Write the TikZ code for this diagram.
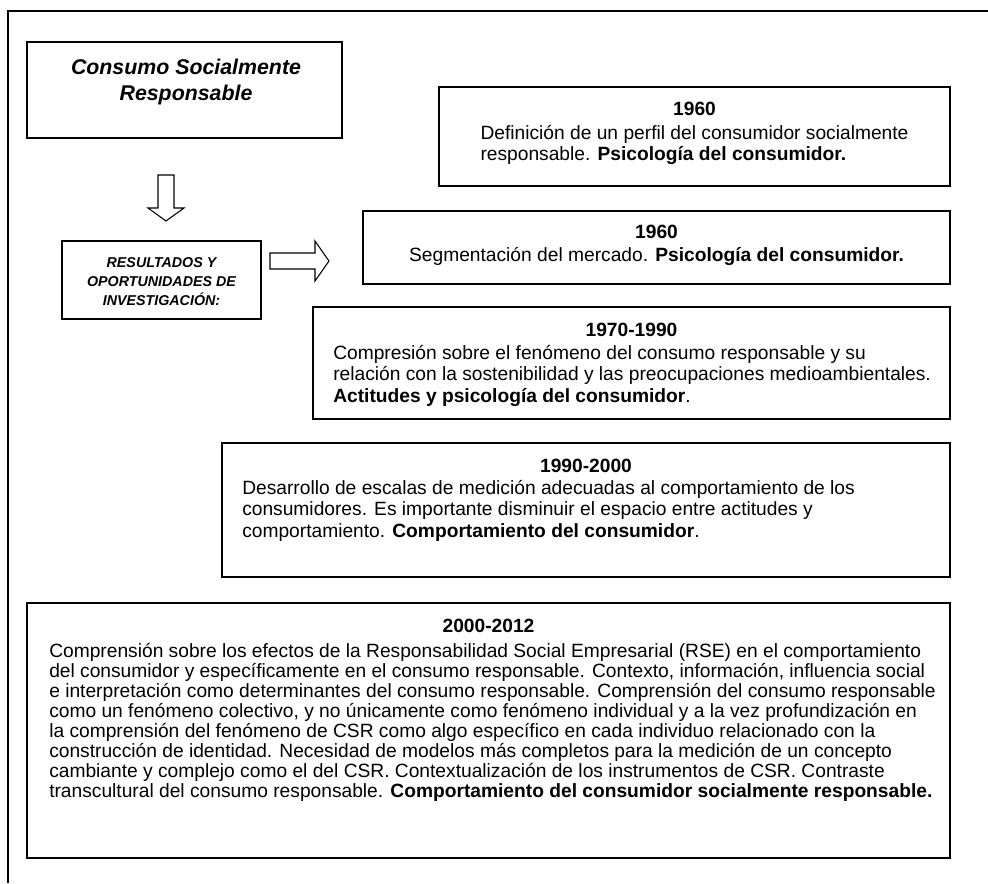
\documentclass[tikz,border=0pt]{standalone}
\usepackage{fontspec}
\setmainfont{Liberation Sans}
\usepackage{tikz}
\usetikzlibrary{fit}

\begin{document}
\begin{tikzpicture}[x=0.75pt,y=0.75pt,yscale=-1,xscale=1,
  box/.style={draw, line width=1pt, inner sep=0pt},
  hdr/.style={anchor=north, inner sep=0pt, font=\fontsize{14.4}{16}\selectfont\bfseries},
  body/.style={anchor=north west, inner sep=0pt, align=left, font=\fontsize{14.4}{16}\selectfont},
  blockarrow/.style={line width=0.8pt, line join=miter}]
\useasboundingbox (0,0) rectangle (988,883);

%Straight Lines (frame)
\draw [line width=1pt]   (988,11) -- (8,11) -- (8,883) ;

%Shape: Rectangle
\node [box, fit={(27,42) (342,138)}] (bcsr) {};
%Shape: Rectangle
\node [box, fit={(62,241) (261,319)}] (bres) {};
%Shape: Rectangle
\node [box, fit={(439,87) (950,186)}] (bperfil) {};
%Shape: Rectangle
\node [box, fit={(363,211) (950,284)}] (bsegm) {};
%Shape: Rectangle
\node [box, fit={(313,307) (950,419)}] (bactit) {};
%Shape: Rectangle
\node [box, fit={(222,443) (950,577)}] (bescal) {};
%Shape: Rectangle
\node [box, fit={(27,603) (950,858)}] (bcsrcomp) {};

%Shape: Down Arrow
\draw [blockarrow]  (158,175) -- (174,175) -- (174,208) -- (184,208) -- (166,221) -- (148,208) -- (158,208) -- cycle ;
%Shape: Right Arrow
\draw [blockarrow]  (270,253) -- (315,253) -- (315,241) -- (329,261) -- (315,281) -- (315,269) -- (270,269) -- cycle ;

% Text Node
\draw (186,58.5) node [anchor=north, inner sep=0pt, align=center, font=\fontsize{16}{19.5}\selectfont\bfseries\itshape] (tcsr) {Consumo Socialmente\\Responsable};
% Text Node
\draw (161.5,257) node [anchor=north, inner sep=0pt, align=center, font=\fontsize{10.7}{14.4}\selectfont\bfseries\itshape] (tres) {RESULTADOS Y\\OPORTUNIDADES DE\\INVESTIGACIÓN:};

% Text Node
\draw (694.5,102) node [hdr] (hperfil) {1960};
\draw (694.5,125) node [hdr, font=\fontsize{14.4}{16}\selectfont\mdseries, align=left] (tperfil) {Definición de un perfil del consumidor socialmente\\responsable. \textbf{Psicología del consumidor.}};
% Text Node
\draw (656.5,225) node [hdr] (hsegm) {1960};
\draw (656.5,247) node [hdr, font=\fontsize{14.4}{16}\selectfont\mdseries] (tsegm) {Segmentación del mercado. \textbf{Psicología del consumidor.}};
% Text Node
\draw (631.5,323) node [hdr] (hactit) {1970-1990};
\draw (333,345) node [body] (tactit) {Compresión sobre el fenómeno del consumo responsable y su\\relación con la sostenibilidad y las preocupaciones medioambientales.\\\textbf{Actitudes y psicología del consumidor}.};
% Text Node
\draw (586,459) node [hdr] (hescal) {1990-2000};
\draw (242,480) node [body] (tescal) {Desarrollo de escalas de medición adecuadas al comportamiento de los\\consumidores. Es importante disminuir el espacio entre actitudes y\\comportamiento. \textbf{Comportamiento del consumidor}.};
% Text Node
\draw (488.5,619) node [hdr] (hcsrcomp) {2000-2012};
\draw (49,643) node [body, font=\fontsize{14.4}{15}\selectfont] (tcsrcomp) {Comprensión sobre los efectos de la Responsabilidad Social Empresarial (RSE) en el comportamiento\\del consumidor y específicamente en el consumo responsable. Contexto, información, influencia social\\e interpretación como determinantes del consumo responsable. Comprensión del consumo responsable\\como un fenómeno colectivo, y no únicamente como fenómeno individual y a la vez profundización en\\la comprensión del fenómeno de CSR como algo específico en cada individuo relacionado con la\\construcción de identidad. Necesidad de modelos más completos para la medición de un concepto\\cambiante y complejo como el del CSR. Contextualización de los instrumentos de CSR. Contraste\\transcultural del consumo responsable. \textbf{Comportamiento del consumidor socialmente responsable.}};

\end{tikzpicture}
\end{document}
